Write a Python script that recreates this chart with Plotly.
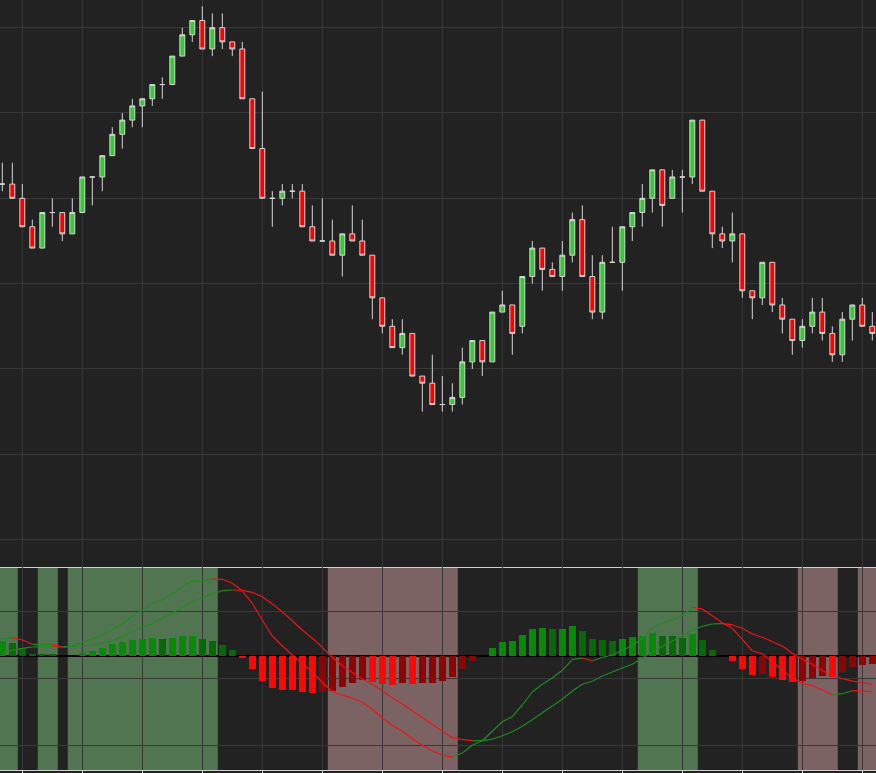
import plotly.graph_objects as go

bars = list(range(88))

open_ = [102, 102, 100, 96, 93, 98, 98, 95, 98, 103,
         103, 106, 109, 111, 113, 114, 116, 116, 120, 123,
         125, 121, 124, 122, 121, 114, 107, 100, 100, 101,
         101, 96, 94, 94, 92, 95, 94, 92, 86, 82,
         79, 81, 75, 74, 71, 71, 72, 77, 80, 77,
         84, 85, 82, 89, 93, 90, 89, 92, 97, 89,
         84, 91, 91, 96, 98, 100, 104, 100, 103, 103,
         111, 101, 95, 94, 95, 87, 86, 91, 85, 83,
         80, 82, 84, 81, 78, 83, 85, 82]
high = [105, 105, 102, 97, 98, 100, 98, 100, 103, 103,
        106, 110, 112, 114, 114, 116, 117, 120, 124, 125,
        127, 126, 126, 122, 122, 114, 115, 101, 102, 102,
        102, 99, 100, 97, 95, 99, 97, 92, 86, 83,
        83, 81, 75, 78, 75, 74, 79, 80, 80, 84,
        87, 85, 89, 94, 93, 91, 94, 98, 99, 92,
        92, 96, 96, 98, 102, 104, 104, 104, 104, 111,
        111, 101, 96, 98, 95, 87, 91, 91, 86, 83,
        83, 86, 86, 82, 84, 85, 86, 84]
low = [101, 100, 96, 93, 93, 96, 94, 95, 98, 99,
       101, 106, 107, 110, 110, 113, 114, 116, 120, 122,
       121, 120, 121, 120, 114, 107, 100, 96, 99, 100,
       96, 94, 94, 92, 89, 94, 92, 83, 81, 79,
       78, 75, 70, 71, 70, 70, 71, 76, 75, 77,
       84, 78, 81, 88, 87, 89, 87, 91, 89, 83,
       83, 91, 87, 94, 96, 98, 96, 100, 98, 102,
       101, 93, 93, 91, 86, 83, 85, 84, 81, 78,
       79, 81, 80, 77, 77, 80, 82, 80]
close = [102, 100, 96, 93, 98, 98, 95, 98, 103, 103,
         106, 109, 111, 113, 114, 116, 116, 120, 123, 125,
         121, 124, 122, 121, 114, 107, 100, 100, 101, 101,
         96, 94, 94, 92, 95, 94, 92, 86, 82, 79,
         81, 75, 74, 71, 71, 72, 77, 80, 77, 84,
         85, 81, 89, 93, 90, 89, 92, 97, 89, 84,
         91, 91, 96, 98, 100, 104, 99, 103, 103, 111,
         101, 95, 94, 95, 87, 86, 91, 85, 83, 80,
         82, 84, 81, 78, 83, 85, 82, 81]

macd = [17.3, 18.5, 16.3, 12.0, 12.0, 12.0, 9.3, 10.0, 14.0, 17.0,
        21.0, 26.6, 32.6, 40.3, 46.0, 53.3, 56.6, 62.6, 69.3, 75.3,
        75.6, 77.3, 77.0, 73.0, 65.5, 53.0, 36.3, 20.3, 10.3, 1.3,
        -7.0, -15.7, -26.0, -35.0, -39.0, -42.0, -46.0, -53.0, -61.7, -69.4,
        -74.7, -82.7, -89.0, -94.4, -99.0, -100.8, -96.7, -89.0, -84.4, -75.0,
        -65.4, -60.4, -48.7, -35.7, -28.0, -21.7, -14.0, -3.0, -1.7, -4.7,
        -1.0, 1.3, 6.0, 10.6, 18.0, 28.5, 33.0, 36.3, 40.6, 49.0,
        47.3, 40.5, 33.5, 28.0, 17.0, 5.5, 2.5, -5.4, -13.7, -22.0,
        -27.0, -29.4, -33.7, -38.4, -37.4, -34.4, -34.6, -35.7]
signal = [3.5, 6.0, 8.0, 9.3, 9.7, 9.8, 9.5, 9.8, 10.3, 11.3,
          13.0, 15.6, 19.6, 24.6, 29.0, 32.6, 38.3, 43.6, 49.0, 54.3,
          59.0, 62.6, 65.6, 66.3, 66.0, 64.0, 59.5, 52.3, 44.6, 35.5,
          26.3, 18.0, 9.0, -1.0, -9.5, -16.0, -23.0, -28.0, -34.4, -41.7,
          -47.7, -54.4, -61.4, -68.0, -75.0, -81.4, -83.4, -84.4, -84.4, -83.0,
          -79.4, -75.4, -70.0, -63.4, -56.4, -49.7, -43.0, -34.7, -28.0, -25.0,
          -19.7, -15.7, -11.7, -8.0, -1.7, 4.0, 10.0, 15.0, 20.6, 26.0,
          30.0, 32.3, 32.6, 31.6, 28.0, 22.3, 19.0, 14.6, 10.3, 3.0,
          -2.7, -8.0, -14.4, -19.4, -22.4, -24.7, -26.4, -28.0]
hist = [15.3, 13.3, 8.3, 2.6, 2.3, 2.0, 0.0, 0.0, 3.3, 5.3,
        8.3, 12.3, 14.3, 16.3, 17.3, 18.3, 17.3, 18.3, 20.3, 20.3,
        17.3, 15.3, 11.3, 6.3, -1.0, -12.3, -24.3, -31.3, -33.4, -33.4,
        -35.3, -36.3, -35.3, -34.3, -30.3, -26.3, -23.3, -25.3, -27.3, -28.3,
        -26.3, -27.4, -27.0, -26.3, -24.3, -20.4, -12.4, -4.4, 0.0, 8.3,
        14.3, 15.3, 21.3, 27.3, 28.3, 27.3, 27.5, 30.3, 25.3, 17.3,
        16.3, 15.3, 17.3, 19.3, 20.3, 23.3, 20.3, 20.0, 18.3, 22.3,
        16.3, 6.3, 0.0, -4.4, -12.4, -18.4, -17.4, -20.4, -23.4, -25.4,
        -24.4, -21.4, -19.4, -20.4, -15.4, -10.4, -8.4, -7.4]

# shaded zones (first bar, last bar)
bull_zones = [(0, 1), (4, 5), (7, 21), (64, 69)]
bear_zones = [(33, 45), (80, 83), (86, 87)]

BG = '#222222'
GRID = '#383838'
AXLINE = '#cfcfcf'
UP_LINE = '#1f8c1f'
DN_LINE = '#f01515'

fig = go.Figure()

fig.add_trace(go.Candlestick(
    x=bars, open=open_, high=high, low=low, close=close,
    increasing=dict(fillcolor='#33cc33', line=dict(color='#d6d6d6', width=1)),
    decreasing=dict(fillcolor='#ff0000', line=dict(color='#d6d6d6', width=1)),
    whiskerwidth=0, xaxis='x', yaxis='y', hoverinfo='skip', showlegend=False))

# histogram colours: bright when growing in magnitude, dark when shrinking
hcol = []
for i, h in enumerate(hist):
    prev = hist[i - 1] if i > 0 else 0.0
    if h >= 0:
        hcol.append('#078a07' if h >= prev else '#066806')
    else:
        hcol.append('#ff0606' if h <= prev else '#8c0404')

fig.add_trace(go.Bar(x=bars, y=hist, marker=dict(color=hcol, line=dict(width=0)),
                     width=0.66, xaxis='x2', yaxis='y2', hoverinfo='skip',
                     showlegend=False))


def slope_lines(vals):
    out = {UP_LINE: ([], []), DN_LINE: ([], [])}
    for i in range(len(vals) - 1):
        c = UP_LINE if vals[i + 1] >= vals[i] else DN_LINE
        xs, ys = out[c]
        xs += [bars[i], bars[i + 1], None]
        ys += [vals[i], vals[i + 1], None]
    return out


for series in (signal, macd):
    for col, (xs, ys) in slope_lines(series).items():
        fig.add_trace(go.Scatter(x=xs, y=ys, mode='lines',
                                 line=dict(color=col, width=1.2),
                                 xaxis='x2', yaxis='y2', hoverinfo='skip',
                                 showlegend=False, connectgaps=False))

shapes = []
for zones, col in ((bull_zones, '#517551'), (bear_zones, '#7b6364')):
    for s, e in zones:
        shapes.append(dict(type='rect', xref='x2', yref='y2 domain',
                           x0=s - 0.45, x1=e + 0.55, y0=0, y1=1,
                           fillcolor=col, line=dict(width=0), layer='below'))

split = (770 - 567) / 770.0

fig.update_layout(
    width=876, height=773,
    margin=dict(l=0, r=0, t=0, b=3),
    paper_bgcolor=BG, plot_bgcolor=BG,
    showlegend=False,
    shapes=shapes,
    bargap=0,
    xaxis=dict(domain=[0, 1], anchor='y', range=[-0.23, 87.37],
               showgrid=True, gridcolor=GRID, gridwidth=1,
               tick0=2, dtick=6, showticklabels=False, ticks='',
               showline=True, linecolor=AXLINE, linewidth=1,
               zeroline=False, rangeslider=dict(visible=False)),
    xaxis2=dict(domain=[0, 1], anchor='y2', matches='x', range=[-0.23, 87.37],
                showgrid=True, gridcolor=GRID, gridwidth=1,
                tick0=2, dtick=6, showticklabels=False,
                ticks='outside', ticklen=3, tickcolor=AXLINE,
                showline=True, linecolor=AXLINE, linewidth=1, zeroline=False),
    yaxis=dict(domain=[split, 1], anchor='x', range=[48.15, 127.89],
               tick0=100, dtick=12, showgrid=True, gridcolor=GRID,
               showticklabels=False, zeroline=False),
    yaxis2=dict(domain=[0, split], anchor='x2', range=[-113.7, 89.3],
                tick0=45.3, dtick=67, showgrid=True, gridcolor=GRID,
                showticklabels=False, zeroline=True, zerolinecolor='#000000',
                zerolinewidth=1.5),
)

fig.write_html("out.html",
               config={'displayModeBar': False},
               post_script="document.body.style.margin='0';"
                           "document.body.style.overflow='hidden';"
                           "document.body.style.background='#222222';")
